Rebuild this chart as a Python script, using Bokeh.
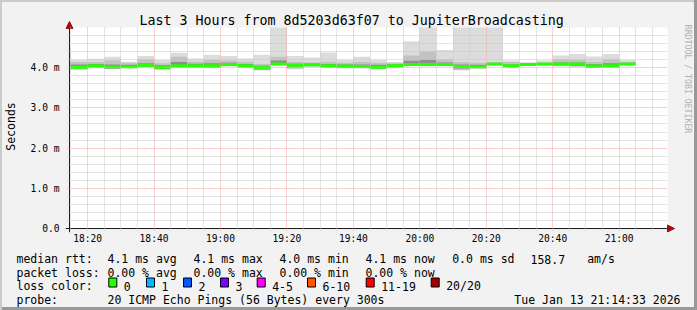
import math
import pandas as pd
from bokeh.plotting import figure
from bokeh.layouts import column, row
from bokeh.models import (ColumnDataSource, Range1d, FixedTicker, Arrow, NormalHead,
                          DatetimeTickFormatter, BoxAnnotation)
from bokeh.core.properties import value
from bokeh.embed import file_html
from bokeh.resources import INLINE

DAY = "2026-01-13"
WINDOW = ("18:14:33", "21:14:33")
STEP_MINUTES = 5

# end time of each 5-minute RRD step
step_end = ["18:15", "18:20", "18:25", "18:30", "18:35", "18:40", "18:45", "18:50",
            "18:55", "19:00", "19:05", "19:10", "19:15", "19:20", "19:25", "19:30",
            "19:35", "19:40", "19:45", "19:50", "19:55", "20:00", "20:05", "20:10",
            "20:15", "20:20", "20:25", "20:30", "20:35", "20:40", "20:45", "20:50",
            "20:55", "21:00", "21:05"]

# median rtt (ms)
median = [4.02, 4.01, 4.05, 4.02, 4.02, 4.06, 4.01, 4.05, 4.05, 4.05, 4.08, 4.05,
          4.00, 4.09, 4.06, 4.07, 4.05, 4.04, 4.03, 4.01, 4.05, 4.08, 4.08, 4.08,
          4.03, 4.02, 4.09, 4.05, 4.08, 4.09, 4.09, 4.09, 4.04, 4.05, 4.09]
# fastest / slowest ping of the 20 (ms)
rtt_min = [3.95, 3.95, 4.00, 3.98, 3.99, 4.01, 3.95, 4.00, 4.00, 4.00, 4.03, 4.00,
           3.93, 4.06, 3.96, 4.02, 4.00, 3.98, 3.98, 3.96, 4.01, 4.04, 4.03, 4.03,
           3.93, 3.98, 4.05, 4.02, 4.05, 4.05, 4.03, 4.02, 4.00, 4.00, 4.06]
rtt_max = [4.45, 4.19, 4.22, 4.27, 4.15, 4.29, 4.19, 4.37, 4.23, 4.32, 4.29, 4.23,
           4.32, 6.20, 4.29, 4.25, 4.38, 4.19, 4.27, 4.19, 4.14, 4.66, 5.90, 4.44,
           6.50, 5.60, 5.80, 4.18, 4.13, 4.18, 4.30, 4.34, 4.28, 4.34, 4.19]
# outer-middle smoke band
rtt_lo = [3.97, 3.96, 4.01, 3.97, 3.99, 4.02, 3.96, 4.01, 4.01, 4.00, 4.04, 4.01,
          3.94, 4.07, 3.98, 4.03, 4.01, 3.99, 3.99, 3.97, 4.02, 4.05, 4.04, 4.04,
          3.95, 3.98, 4.06, 4.02, 4.05, 4.06, 4.04, 4.03, 4.00, 4.01, 4.07]
rtt_hi = [4.15, 4.14, 4.14, 4.18, 4.12, 4.21, 4.11, 4.27, 4.15, 4.19, 4.18, 4.15,
          4.09, 4.27, 4.15, 4.13, 4.15, 4.12, 4.15, 4.12, 4.11, 4.30, 4.41, 4.21,
          4.14, 4.12, 4.13, 4.14, 4.12, 4.12, 4.21, 4.20, 4.15, 4.21, 4.14]
# inner smoke band
rtt_lo2 = [3.98, 3.98, 4.02, 3.98, 3.99, 4.03, 3.97, 4.02, 4.02, 4.01, 4.05, 4.02,
           3.96, 4.07, 4.03, 4.04, 4.02, 4.00, 4.00, 3.98, 4.03, 4.06, 4.05, 4.05,
           3.98, 3.99, 4.07, 4.03, 4.06, 4.07, 4.06, 4.05, 4.01, 4.02, 4.07]
rtt_hi2 = [4.08, 4.08, 4.09, 4.08, 4.07, 4.11, 4.06, 4.14, 4.10, 4.11, 4.12, 4.09,
           4.05, 4.18, 4.10, 4.10, 4.09, 4.08, 4.08, 4.07, 4.08, 4.17, 4.20, 4.13,
           4.08, 4.07, 4.11, 4.08, 4.10, 4.11, 4.13, 4.13, 4.09, 4.11, 4.11]

x_tick_labels = ["18:20", "18:40", "19:00", "19:20", "19:40", "20:00", "20:20", "20:40", "21:00"]
y_ticks = [0, 1, 2, 3, 4]
y_tick_labels = ["0.0", "1.0 m", "2.0 m", "3.0 m", "4.0 m"]
Y_MAX = 5.0

title_text = "Last 3 Hours from 8d5203d63f07 to JupiterBroadcasting"
watermark_text = "RRDTOOL / TOBI OETIKER"
stats_rtt = ["4.1 ms avg", "4.1 ms max", "4.0 ms min", "4.1 ms now", "0.0 ms sd", "158.7", "am/s"]
stats_loss = ["0.00 % avg", "0.00 % max", "0.00 % min", "0.00 % now"]
loss_labels = ["0", "1", "2", "3", "4-5", "6-10", "11-19", "20/20"]
loss_colors = ["#26ff00", "#00b8ff", "#0059ff", "#7e00ff", "#ff00ff", "#ff5500", "#ff0000", "#a10000"]
probe_text = "20 ICMP Echo Pings (56 Bytes) every 300s"
stamp_text = "Tue Jan 13 21:14:33 2026"

FONT = "DejaVu Sans Mono"
BACK = "#f2f2f2"
SHADE_A = "#cbcbcb"
SHADE_B = "#999999"

# ---------------------------------------------------------------
def ts(s):
    return pd.Timestamp(f"{DAY} {s}")

def ms(t):
    return t.value / 1e6

t0, t1 = ts(WINDOW[0]), ts(WINDOW[1])

W, H = 697, 310
TOP_H = 246          # height of the chart part
WM_W = 17            # width of the watermark strip on the right
PL, PR, PT, PB = 67, 667, 27, 229   # plot-area edges (canvas px)
FL, FR, FT, FB = 63, 675, 20, 233   # frame edges (canvas px), a little larger for axis arrows

px_per_ms_t = (PR - PL) / (t1 - t0).total_seconds() / 1000.0   # px per millisecond of time
px_per_val = (PB - PT) / Y_MAX                                 # px per ms of rtt
def dx(px):
    return px / px_per_ms_t
def dy(px):
    return px / px_per_val

end = pd.to_datetime([f"{DAY} {s}" for s in step_end])
start = end - pd.Timedelta(minutes=STEP_MINUTES)
# clip to the visible window (rrdtool clips at the canvas)
start_vis = [max(s, t0) for s in start]
def clip(vals):
    return [min(v, Y_MAX) for v in vals]
half_band = 0.037
src = ColumnDataSource(dict(
    start=start_vis, end=end,
    rtt_min=rtt_min, rtt_max=clip(rtt_max), rtt_lo=rtt_lo, rtt_hi=clip(rtt_hi),
    rtt_lo2=rtt_lo2, rtt_hi2=clip(rtt_hi2),
    med_lo=[m - half_band for m in median], med_hi=[m + half_band for m in median],
))

x_lo = pd.Timestamp(ms(t0) - dx(PL - FL), unit="ms")
x_hi = pd.Timestamp(ms(t1) + dx(FR - PR), unit="ms")
p = figure(width=W - WM_W, height=TOP_H, output_backend="svg", toolbar_location=None,
           x_axis_type="datetime",
           x_range=Range1d(x_lo, x_hi),
           y_range=Range1d(-dy(FB - PB), Y_MAX + dy(PT - FT)),
           min_border_left=FL, min_border_right=W - WM_W - FR,
           min_border_top=FT, min_border_bottom=TOP_H - FB)
p.border_fill_alpha = 0
p.background_fill_alpha = 0
p.outline_line_color = None
p.styles = {"background-color": BACK,
            "box-shadow": f"inset 2px 2px 0 0 {SHADE_A}"}

# white canvas of the graph
p.add_layout(BoxAnnotation(left=ms(t0), right=ms(t1), bottom=0, top=Y_MAX,
                           fill_color="#ffffff", fill_alpha=1.0, line_color=None,
                           level="underlay"))

# title
p.title.text = title_text
p.title.align = "left"
p.title.offset = 137 - FL
try:
    p.title.standoff = -2 * (PT - FT)
except Exception:
    p.title.standoff = 0
p.title.text_font = FONT
p.title.text_font_size = "13.3px"
p.title.text_font_style = "normal"
p.title.text_color = "#000000"

# smoke
p.quad(left="start", right="end", bottom="rtt_min", top="rtt_max", source=src,
       fill_color="#dcdcdc", line_color=None)
p.quad(left="start", right="end", bottom="rtt_lo", top="rtt_hi", source=src,
       fill_color="#c2c2c2", line_color=None)
p.quad(left="start", right="end", bottom="rtt_lo2", top="rtt_hi2", source=src,
       fill_color="#8e8e8e", line_color=None)
# median, coloured by loss
p.quad(left="start", right="end", bottom="med_lo", top="med_hi", source=src,
       fill_color=loss_colors[0], line_color=None)

# ticks / grid
x_major = [ms(ts(s)) for s in x_tick_labels]
x_minor = [ms(t) for t in pd.date_range(ts("18:15"), ts("21:10"), freq="5min")
           if ms(t) not in x_major]
p.xaxis.ticker = FixedTicker(ticks=x_major, minor_ticks=x_minor)
p.xaxis.formatter = DatetimeTickFormatter(minsec="%H:%M", minutes="%H:%M",
                                          hourmin="%H:%M", hours="%H:%M")
y_minor = [i * 0.2 for i in range(1, 25) if i % 5]
p.yaxis.ticker = FixedTicker(ticks=y_ticks, minor_ticks=y_minor)
p.yaxis.major_label_overrides = dict(zip(y_ticks, y_tick_labels))

MGRID = "#f0a0a0"
GRID = "#c8c8c8"
p.xgrid.ticker = FixedTicker(ticks=x_major, minor_ticks=x_minor)
p.ygrid.ticker = FixedTicker(ticks=y_ticks[1:], minor_ticks=y_minor)
p.xgrid.bounds = (ms(t0), ms(t1))
p.ygrid.bounds = (0, Y_MAX)
try:
    p.xgrid.cross_bounds = (-dy(2), Y_MAX)
    p.ygrid.cross_bounds = (ms(t0) - dx(2), ms(t1))
except Exception:
    pass
for g in (p.xgrid, p.ygrid):
    g.grid_line_color = MGRID
    g.grid_line_dash = "1 1"
    g.grid_line_width = 1
    g.minor_grid_line_color = GRID
    g.minor_grid_line_dash = "1 1"
    g.minor_grid_line_width = 1
    g.level = "overlay"

for ax in (p.xaxis, p.yaxis):
    ax.axis_line_color = None
    ax.major_tick_line_color = None
    ax.minor_tick_line_color = None
    ax.major_tick_in = 0
    ax.major_tick_out = 0
    ax.minor_tick_in = 0
    ax.minor_tick_out = 0
    ax.major_label_text_font = FONT
    ax.major_label_text_font_size = "9.6px"
    ax.major_label_text_color = "#000000"
p.xaxis.major_label_standoff = 0
p.yaxis.major_label_standoff = 6
p.yaxis.axis_label = "Seconds"
p.yaxis.axis_label_text_font = FONT
p.yaxis.axis_label_text_font_size = "11.5px"
p.yaxis.axis_label_text_font_style = "normal"
p.yaxis.axis_label_text_color = "#000000"
p.yaxis.axis_label_standoff = 10

# axis lines with arrows
AX = "#1a1a1a"
ARROW = "#a01010"
p.add_layout(Arrow(end=NormalHead(size=7, fill_color=ARROW, line_color=ARROW),
                   x_start=ms(t0) - dx(4), y_start=0,
                   x_end=ms(t1) + dx(7), y_end=0,
                   line_color=AX, line_width=1))
p.add_layout(Arrow(end=NormalHead(size=7, fill_color=ARROW, line_color=ARROW),
                   x_start=ms(t0), y_start=-dy(4),
                   x_end=ms(t0), y_end=Y_MAX + dy(6),
                   line_color=AX, line_width=1))


def pixel_fig(width, height, shadow):
    """A figure whose frame is the whole canvas, in pixel units (y down)."""
    f = figure(width=width, height=height, output_backend="svg", toolbar_location=None,
               x_range=Range1d(0, width), y_range=Range1d(height, 0),
               min_border=0, x_axis_location=None, y_axis_location=None)
    f.grid.visible = False
    f.outline_line_color = None
    f.background_fill_alpha = 0
    f.border_fill_alpha = 0
    f.styles = {"background-color": BACK, "box-shadow": shadow}
    return f

# watermark strip
wm = pixel_fig(WM_W, TOP_H, f"inset -3px 0 0 0 {SHADE_B}, inset 0 2px 0 0 {SHADE_A}")
wm.text(x=[687.5 - (W - WM_W)], y=[5], text=[watermark_text], angle=-math.pi / 2,
        text_font=value(FONT), text_font_size=value("8.2px"), text_color="#b0b0b0",
        text_align="left", text_baseline="middle")

# legend part
LH = H - TOP_H
lg = pixel_fig(W, LH, f"inset 2px 0 0 0 {SHADE_A}, inset -3px -3px 0 0 {SHADE_B}")
row_y = [258.5, 272, 285.5, 299]
col_x = [107, 193, 279, 365, 451.7, 530, 586.7]
box_x = [108.3, 146, 183, 220, 256.7, 307, 365.7, 430.7]

tx, ty, tt, ta = [], [], [], []
def add(cx, cy, text, align="left"):
    tx.append(cx); ty.append(cy - TOP_H); tt.append(text); ta.append(align)

add(16, row_y[0], "median rtt:")
for x, t in zip(col_x, stats_rtt):
    add(x, row_y[0], t)
add(16, row_y[1], "packet loss:")
for x, t in zip(col_x, stats_loss):
    add(x, row_y[1], t)
add(16, row_y[2], "loss color:")
for x, t in zip(box_x, loss_labels):
    add(x + 15, row_y[2], t)
add(16, row_y[3], "probe:")
add(107, row_y[3], probe_text)
add(680, row_y[3], stamp_text, "right")

lg.text(x="x", y="y", text="text", text_align="align",
        source=ColumnDataSource(dict(x=tx, y=ty, text=tt, align=ta)),
        text_font=value(FONT), text_font_size=value("11.5px"), text_color="#000000",
        text_baseline="alphabetic")
lg.quad(left=box_x, right=[x + 8 for x in box_x],
        top=[277.5 - TOP_H] * len(box_x), bottom=[286.5 - TOP_H] * len(box_x),
        fill_color=loss_colors, line_color="#000000", line_width=1)

layout = column(row(p, wm, spacing=0), lg, spacing=0)
open("out.html", "w").write(file_html(layout, INLINE))
